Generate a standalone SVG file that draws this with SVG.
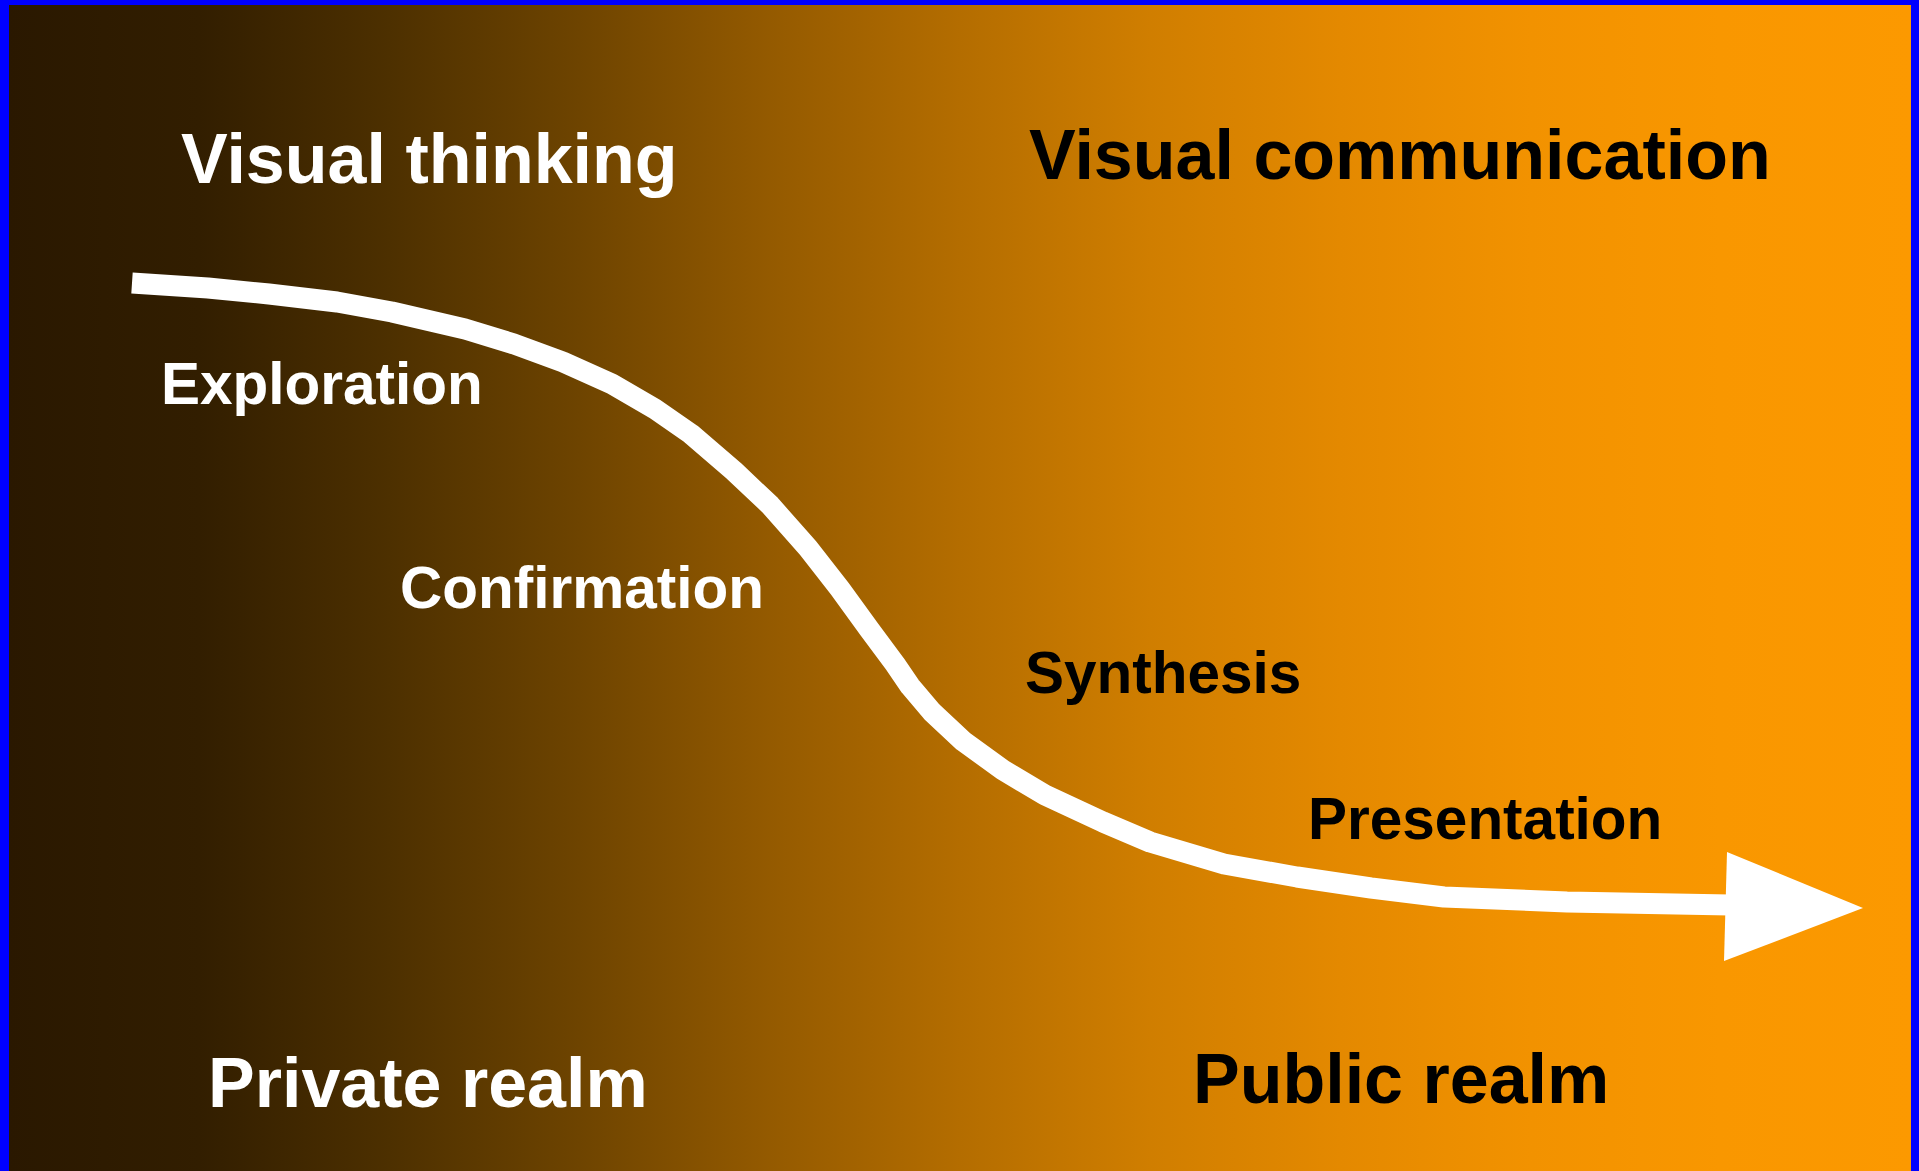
<svg xmlns="http://www.w3.org/2000/svg" width="1919" height="1171" viewBox="0 0 1919 1171">
  <defs>
    <linearGradient id="bg" gradientUnits="userSpaceOnUse" x1="9" y1="0" x2="1911" y2="0">
      <stop offset="0" stop-color="#2a1800"/>
      <stop offset="0.1" stop-color="#321e00"/>
      <stop offset="0.2" stop-color="#4d3000"/>
      <stop offset="0.3" stop-color="#6e4400"/>
      <stop offset="0.4" stop-color="#945a00"/>
      <stop offset="0.5" stop-color="#b46d00"/>
      <stop offset="0.6" stop-color="#d07e00"/>
      <stop offset="0.7" stop-color="#e48900"/>
      <stop offset="0.8" stop-color="#f29200"/>
      <stop offset="0.9" stop-color="#f99700"/>
      <stop offset="1" stop-color="#fc9900"/>
    </linearGradient>
    <style>
      .lbl { font-family: "Liberation Sans", Arial, sans-serif; font-weight: bold; }
      .big { font-size: 70px; }
      .small { font-size: 58.5px; }
      .w { fill: #ffffff; }
      .k { fill: #000000; }
      .flow { fill: none; stroke: #ffffff; stroke-width: 21; stroke-linejoin: round; stroke-linecap: butt; }
      .head { fill: #ffffff; }
    </style>
  </defs>

  <rect x="0" y="0" width="1919" height="1171" fill="#0000ff"/>
  <rect x="9" y="5" width="1902" height="1166" fill="url(#bg)"/>

  <g id="connectors">
    <path class="flow" d="M132,283 L208,288 L269,294 L337,302 L392,312 L465,329 L514,344 L563,362 L612,384 L655,409 L691,434 L734,471 L770,505 L808,548 L840,589 L869,629 L895,664 L910,686 L932,712 L963,741 L1003,770 L1045,795 L1103,822 L1150,842 L1224,864 L1297,877 L1371,888 L1444,897 L1567,902 L1730,905"/>
    <polygon class="head" points="1727,852 1863,908 1724,961"/>
  </g>

  <g id="node-visual-thinking"><text class="lbl big w" x="181" y="183">Visual thinking</text></g>
  <g id="node-visual-communication"><text class="lbl big k" x="1029" y="179">Visual communication</text></g>
  <g id="node-exploration"><text class="lbl small w" x="161" y="404">Exploration</text></g>
  <g id="node-confirmation"><text class="lbl small w" x="400" y="608">Confirmation</text></g>
  <g id="node-synthesis"><text class="lbl small k" x="1025" y="693">Synthesis</text></g>
  <g id="node-presentation"><text class="lbl small k" x="1308" y="839">Presentation</text></g>
  <g id="node-private-realm"><text class="lbl big w" x="208" y="1107">Private realm</text></g>
  <g id="node-public-realm"><text class="lbl big k" x="1193" y="1103">Public realm</text></g>
</svg>
